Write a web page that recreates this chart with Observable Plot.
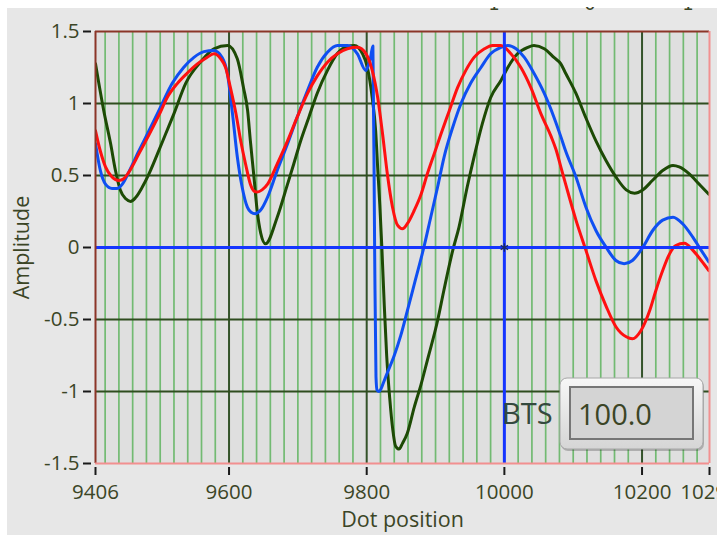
<!DOCTYPE html>
<html>
<head>
<meta charset="utf-8">
<script src="https://cdn.jsdelivr.net/npm/d3@7"></script>
<script src="https://cdn.jsdelivr.net/npm/@observablehq/plot@0.6"></script>
<style>
  html, body { margin: 0; padding: 0; background: #ffffff; overflow: hidden; }
  body { width: 717px; height: 535px; position: relative; }
  #panel { position: absolute; left: 7px; top: 8px; right: 0; bottom: 0; background: #e7e7e7; }
  #chart { position: absolute; left: 0; top: 0; }
</style>
</head>
<body>
<div id="panel"></div>
<div id="chart"></div>
<script>
// ---- axis / tick values ----
const xMin = 9406, xMax = 10298;
const yMin = -1.5, yMax = 1.5;
const xTicks = [9406, 9600, 9800, 10000, 10200, 10298];
const yTicks = [-1.5, -1, -0.5, 0, 0.5, 1, 1.5];
const majorX = [9600, 9800, 10200];
const majorY = [-1, -0.5, 0.5, 1];
const minorStep = 20;
const cursorX = 10000, cursorY = 0;
const btsLabel = "BTS", btsValue = "100.0";
const topFragments = ["1", "0", "1"];

// ---- series: dark green ----
const greenX = [9406, 9418, 9428, 9435, 9442, 9450, 9457, 9464, 9474, 9483.5, 9496, 9508, 9520, 9537, 9559, 9578, 9598, 9612, 9621, 9627, 9631, 9636, 9641, 9646, 9653, 9670, 9685, 9694, 9704, 9716, 9728, 9743, 9757, 9772, 9782, 9794, 9801, 9808, 9813, 9816, 9819, 9822, 9825.5, 9829, 9833.5, 9838, 9842, 9847, 9852, 9859, 9869, 9879, 9888, 9903, 9912, 9925, 9934, 9946, 9956, 9968, 9980, 9995, 10005, 10019, 10034, 10043, 10058, 10072, 10082, 10089, 10104, 10118, 10133, 10148, 10162, 10177, 10189, 10201, 10215, 10230, 10245, 10254, 10269, 10283, 10297];
const greenY = [1.276, 0.95, 0.72, 0.535, 0.40, 0.338, 0.32, 0.345, 0.42, 0.51, 0.65, 0.79, 0.93, 1.14, 1.29, 1.38, 1.403, 1.31, 1.11, 0.95, 0.74, 0.50, 0.25, 0.10, 0.026, 0.21, 0.44, 0.58, 0.74, 0.905, 1.07, 1.23, 1.345, 1.396, 1.403, 1.345, 1.25, 1.04, 0.81, 0.55, 0.30, 0.0, -0.40, -0.75, -1.05, -1.27, -1.38, -1.40, -1.36, -1.29, -1.11, -0.95, -0.785, -0.507, -0.30, -0.02, 0.14, 0.42, 0.63, 0.86, 1.04, 1.16, 1.25, 1.345, 1.39, 1.403, 1.38, 1.32, 1.275, 1.21, 1.07, 0.905, 0.74, 0.60, 0.49, 0.40, 0.377, 0.40, 0.465, 0.535, 0.57, 0.56, 0.51, 0.44, 0.37];

// ---- series: blue ----
const blueX = [9406, 9413, 9420.5, 9430, 9437.6, 9445, 9454, 9469, 9483.5, 9498, 9517.5, 9534, 9549, 9563.5, 9578, 9590, 9597.5, 9605, 9612, 9619, 9626.6, 9632, 9638, 9646, 9656, 9670, 9685, 9699, 9714, 9728, 9743, 9757.5, 9772, 9786.5, 9798.6, 9802, 9806, 9809, 9811.5, 9813.5, 9815, 9818, 9821, 9825, 9830, 9840, 9849.5, 9859, 9871, 9883, 9893, 9903, 9912.5, 9925, 9937, 9951, 9966, 9980, 9995, 10005, 10017, 10029, 10043, 10058, 10072, 10082, 10089, 10104, 10118.5, 10133, 10148, 10162, 10174, 10186, 10201, 10215.5, 10230, 10245, 10259, 10274, 10286, 10297];
const blueY = [0.72, 0.535, 0.44, 0.41, 0.41, 0.44, 0.52, 0.67, 0.81, 0.95, 1.14, 1.25, 1.32, 1.36, 1.368, 1.32, 1.21, 0.93, 0.63, 0.42, 0.28, 0.245, 0.235, 0.26, 0.35, 0.535, 0.72, 0.905, 1.09, 1.25, 1.356, 1.403, 1.403, 1.345, 1.23, 1.26, 1.33, 1.40, 0.0, -0.90, -0.99, -1.0, -0.98, -0.93, -0.87, -0.75, -0.61, -0.44, -0.22, 0.0, 0.21, 0.42, 0.63, 0.835, 1.0, 1.14, 1.25, 1.345, 1.39, 1.403, 1.38, 1.32, 1.21, 1.07, 0.905, 0.77, 0.67, 0.49, 0.28, 0.118, 0.0, -0.09, -0.113, -0.09, 0.0, 0.118, 0.19, 0.21, 0.165, 0.07, -0.02, -0.10];

// ---- series: red ----
const redX = [9406, 9413, 9420.5, 9430, 9440, 9447, 9454, 9469, 9483.5, 9498, 9510, 9525, 9539, 9554, 9568, 9578, 9588, 9595, 9602, 9610, 9617, 9624, 9631, 9637, 9641, 9648, 9656, 9670, 9685, 9699, 9714, 9728, 9743, 9757.5, 9772, 9786.5, 9799, 9808, 9816, 9823, 9830, 9837.5, 9845, 9852, 9859, 9869, 9879, 9888, 9898, 9908, 9920, 9932, 9944, 9956, 9971, 9983, 9995, 10009.5, 10024, 10038.5, 10053, 10068, 10075, 10082, 10089, 10104, 10118.5, 10133, 10148, 10162, 10177, 10186, 10198.5, 10211, 10220, 10230, 10240, 10249, 10261.5, 10274, 10286, 10297];
const redY = [0.81, 0.67, 0.56, 0.49, 0.465, 0.477, 0.52, 0.65, 0.78, 0.917, 1.04, 1.14, 1.21, 1.275, 1.32, 1.345, 1.31, 1.25, 1.11, 0.93, 0.74, 0.58, 0.44, 0.39, 0.385, 0.40, 0.44, 0.58, 0.74, 0.905, 1.07, 1.19, 1.287, 1.345, 1.38, 1.39, 1.345, 1.23, 1.04, 0.79, 0.51, 0.28, 0.153, 0.13, 0.165, 0.257, 0.37, 0.51, 0.65, 0.79, 0.95, 1.11, 1.23, 1.32, 1.38, 1.403, 1.403, 1.345, 1.25, 1.11, 0.93, 0.77, 0.68, 0.56, 0.44, 0.19, -0.02, -0.23, -0.41, -0.55, -0.62, -0.634, -0.576, -0.44, -0.30, -0.16, -0.044, 0.014, 0.03, -0.02, -0.09, -0.16];

const toRows = (xs, ys) => xs.map((x, i) => ({x, y: ys[i]}));
const green = toRows(greenX, greenY);
const blue = toRows(blueX, blueY);
const red = toRows(redX, redY);

const minorX = d3.range(Math.ceil(xMin / minorStep) * minorStep, xMax, minorStep)
  .filter(v => !majorX.includes(v) && v !== cursorX);

const textColor = "#3b4526";
const font = "'Open Sans', 'Noto Sans', sans-serif";

const chart = Plot.plot({
  width: 717,
  height: 535,
  marginLeft: 95,
  marginRight: 8,
  marginTop: 31,
  marginBottom: 72,
  style: {background: "transparent", fontFamily: font, fontSize: "20.5px", color: textColor, overflow: "visible"},
  x: {domain: [xMin, xMax]},
  y: {domain: [yMin, yMax]},
  marks: [
    Plot.frame({fill: "#dfdfdf", stroke: "none"}),
    Plot.ruleX(minorX, {stroke: "#72ba72", strokeWidth: 1.7}),
    Plot.ruleX(majorX, {stroke: "#34532a", strokeWidth: 2}),
    Plot.ruleY(majorY, {stroke: "#2f4d1f", strokeWidth: 2}),
    Plot.line(green, {x: "x", y: "y", stroke: "#1d4a05", strokeWidth: 3, curve: "monotone-x", clip: true}),
    Plot.line(blue, {x: "x", y: "y", stroke: "#0f4ff2", strokeWidth: 3, curve: "monotone-x", clip: true}),
    Plot.line(red, {x: "x", y: "y", stroke: "#ff1010", strokeWidth: 3, curve: "monotone-x", clip: true}),
    Plot.ruleX([cursorX], {stroke: "#1535ff", strokeWidth: 3}),
    Plot.ruleY([cursorY], {stroke: "#1535ff", strokeWidth: 3}),
    Plot.dot([{x: cursorX, y: cursorY}], {x: "x", y: "y", symbol: "asterisk", r: 4, stroke: "#1a2a66", strokeWidth: 1.3}),
    Plot.ruleY([yMax], {stroke: "#8b3528", strokeWidth: 2}),
    Plot.ruleX([xMin], {stroke: "#8b3528", strokeWidth: 2}),
    Plot.ruleY([yMin], {stroke: "#f29090", strokeWidth: 2}),
    Plot.ruleX([xMax], {stroke: "#f29090", strokeWidth: 2}),
    Plot.axisX(xTicks, {anchor: "bottom", tickSize: 8, tickPadding: 9, dy: 4, tickFormat: d => String(d), stroke: "#1a1a1a", strokeWidth: 2, fill: textColor, label: null}),
    Plot.axisY(yTicks, {anchor: "left", tickSize: 8, tickPadding: 4, dx: -4, tickFormat: d => String(d), stroke: "#1a1a1a", strokeWidth: 2, fill: textColor, label: null}),
    Plot.text(["Dot position"], {text: d => d, frameAnchor: "bottom", dy: 57, textAnchor: "middle", lineAnchor: "middle", fill: textColor, fontSize: 21.5}),
    Plot.text(["Amplitude"], {text: d => d, frameAnchor: "left", dx: -73, rotate: -90, textAnchor: "middle", lineAnchor: "middle", fill: textColor, fontSize: 21.5})
  ]
});

document.getElementById("chart").appendChild(chart);

// ---- LabVIEW-style numeric indicator + clipped legend fragments ----
const svg = d3.select(chart);
const defs = svg.append("defs");
const grad = defs.append("linearGradient").attr("id", "boxgrad").attr("x1", 0).attr("y1", 0).attr("x2", 0).attr("y2", 1);
grad.append("stop").attr("offset", "0%").attr("stop-color", "#f7f7f7");
grad.append("stop").attr("offset", "100%").attr("stop-color", "#d5d5d5");
defs.append("clipPath").attr("id", "topclip").append("rect").attr("x", 0).attr("y", 7).attr("width", 717).attr("height", 5);

const g = svg.append("g").attr("text-anchor", "start");
g.append("rect").attr("x", 561).attr("y", 380).attr("width", 143).attr("height", 71).attr("rx", 7).attr("fill", "rgba(0,0,0,0.22)");
g.append("rect").attr("x", 560).attr("y", 378).attr("width", 143).attr("height", 71).attr("rx", 7)
  .attr("fill", "url(#boxgrad)").attr("stroke", "#a6a6a6").attr("stroke-width", 1);
g.append("rect").attr("x", 570).attr("y", 387).attr("width", 123).attr("height", 52)
  .attr("fill", "#d4d4d4").attr("stroke", "#767676").attr("stroke-width", 2);
g.append("text").attr("x", 578).attr("y", 425).attr("text-anchor", "start").attr("font-family", font).attr("font-size", 29).attr("fill", textColor).text(btsValue);
g.append("text").attr("x", 502).attr("y", 424).attr("text-anchor", "start").attr("font-family", font).attr("font-size", 29).attr("fill", "#34493e").text(btsLabel);

const frag = svg.append("g").attr("clip-path", "url(#topclip)");
[494, 590, 688].forEach((x, i) => {
  frag.append("text").attr("x", x).attr("y", 10).attr("text-anchor", "middle")
    .attr("font-family", "DejaVu Sans").attr("font-size", 18).attr("fill", textColor).text(topFragments[i]);
});
</script>
</body>
</html>
